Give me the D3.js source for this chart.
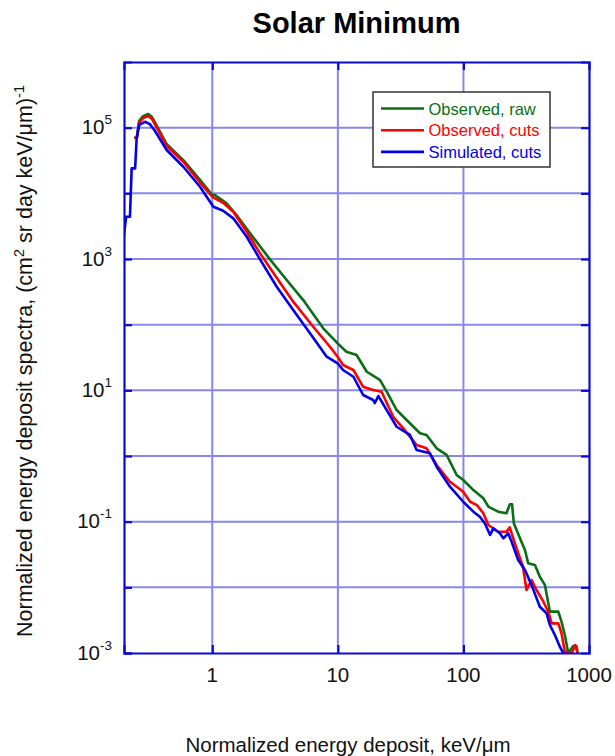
<!DOCTYPE html>
<html><head><meta charset="utf-8">
<script src="https://cdn.jsdelivr.net/npm/d3@7"></script>
<style>body{margin:0;background:#fff}svg{display:block}text{font-family:Arial,"Liberation Sans",sans-serif}</style>
</head><body><svg id="c" width="615" height="756"></svg>
<script>
const seriesNames = ["Observed, raw", "Observed, cuts", "Simulated, cuts"];
const seriesColors = ["#0a6e14", "#ff0000", "#0000ee"];
const greenX = [0.239,0.251,0.261,0.281,0.309,0.331,0.356,0.433,0.588,0.798,1.00,1.05,1.30,1.56,2.00,2.88,3.91,5.30,7.65,9.96,11.7,14.1,17.0,21.6,24.5,29.4,37.5,45.1,50.9,61.2,73.5,88.3,99.6,120,144,158,189,220,234,244,252,282,309,328,371,406,446,488,569,604,642,683,748,794,812];
const greenY = [70300,70300,126000,150000,161000,145000,113000,56300,32100,16000,9410,9410,7040,4680,2460,988,479,237,87.9,52.0,38.7,34.5,19.2,14.4,9.53,5.01,3.15,2.22,2.09,1.31,1.04,0.514,0.431,0.303,0.227,0.169,0.142,0.134,0.184,0.184,0.0944,0.0558,0.037,0.0232,0.0219,0.0145,0.0108,0.00426,0.00426,0.003,0.00188,0.001,0.00128,0.00128,0.001];
const redX = [0.239,0.251,0.261,0.281,0.309,0.331,0.356,0.433,0.588,0.798,1.00,1.05,1.22,1.47,1.88,2.40,3.35,4.41,6.37,8.65,9.96,11.0,13.3,15.9,19.1,22.3,27.6,33.2,42.4,50.9,61.2,78.1,99.6,113,128,144,158,189,220,234,244,265,298,318,349,382,433,474,504,570,604,642,731,776,812];
const redY = [70300,70300,118000,140000,150000,136000,106000,52500,30300,14600,8870,8390,7190,5250,2600,1220,479,224,93.1,46.1,32.5,24.3,20.4,11.3,10.1,9.53,3.96,2.64,1.47,1.31,0.729,0.406,0.286,0.201,0.179,0.134,0.0889,0.0703,0.0703,0.082,0.0627,0.0393,0.0206,0.0091,0.0129,0.0091,0.00604,0.00426,0.00283,0.00283,0.002,0.00105,0.001,0.00132,0.001];
const blueX = [0.198,0.206,0.221,0.228,0.243,0.250,0.262,0.291,0.319,0.350,0.433,0.588,0.798,1.02,1.22,1.47,1.88,2.40,3.26,4.41,6.00,8.15,9.96,11.0,13.3,15.9,19.1,19.7,21.0,24.5,29.4,37.5,42.4,54.1,61.2,78.1,99.6,120,135,148,163,173,195,208,227,242,273,309,349,406,459,488,535,586,623];
const blueY = [2320,4400,4400,24000,24000,70300,110000,123000,113000,89000,45700,25400,12600,6250,5430,4160,2180,988,378,167,73.8,32.5,25.8,20.4,16.1,8.49,7.13,6.41,8.19,5.01,2.79,2.09,1.23,1.10,0.687,0.341,0.201,0.142,0.119,0.0944,0.0627,0.0792,0.0665,0.0558,0.0665,0.0495,0.0261,0.0184,0.0108,0.00507,0.00403,0.00267,0.00188,0.00125,0.001];
const xTicks = [1, 10, 100, 1000];
const xGrid = [1, 10, 100];
const yTicks = [-3, -1, 1, 3, 5];
const yGrid = [-2, -1, 0, 1, 2, 3, 4, 5];

const L = 124, R = 589, T = 62, B = 653;
const svg = d3.select("#c");
const x = d3.scaleLog().domain([Math.pow(10, -0.703), 1000]).range([L, R]);
const y = d3.scaleLog().domain([1e-3, 1e6]).range([B, T]);

svg.append("text").attr("x", (L + R) / 2).attr("y", 33).attr("text-anchor", "middle")
  .attr("font-size", 29).attr("font-weight", "bold").text("Solar Minimum");

// grid
const g = svg.append("g");
g.selectAll(".gx").data(xGrid).join("line").attr("x1", d => x(d)).attr("x2", d => x(d))
  .attr("y1", T).attr("y2", B).attr("stroke", "#8787ee").attr("stroke-width", 2);
g.selectAll(".gy").data(yGrid).join("line").attr("y1", d => y(Math.pow(10, d))).attr("y2", d => y(Math.pow(10, d)))
  .attr("x1", L).attr("x2", R).attr("stroke", "#8787ee").attr("stroke-width", 2);

// curves
svg.append("defs").append("clipPath").attr("id", "clip").append("rect")
  .attr("x", L).attr("y", T).attr("width", R - L).attr("height", B - T);
const series = [d3.zip(greenX, greenY), d3.zip(redX, redY), d3.zip(blueX, blueY)];
const line = d3.line().x(d => x(d[0])).y(d => y(d[1]));
const cg = svg.append("g").attr("clip-path", "url(#clip)");
series.forEach((s, i) => {
  cg.append("path").attr("d", line(s)).attr("fill", "none").attr("stroke", seriesColors[i])
    .attr("stroke-width", 2.6).attr("stroke-linejoin", "round");
});

// axes (frame with inside ticks)
const frameColor = "#0a0ad2";
const axB = d3.axisBottom(x).tickValues(xGrid).tickSize(-8).tickFormat("");
const axT = d3.axisTop(x).tickValues(xGrid).tickSize(-8).tickFormat("");
const axL = d3.axisLeft(y).tickValues(yGrid.concat([-3]).map(d => Math.pow(10, d))).tickSize(-8).tickFormat("");
const axR = d3.axisRight(y).tickValues(yGrid.map(d => Math.pow(10, d))).tickSize(-8).tickFormat("");
[[axB, `translate(0,${B})`], [axT, `translate(0,${T})`], [axL, `translate(${L},0)`], [axR, `translate(${R},0)`]].forEach(([a, t]) => {
  const ag = svg.append("g").attr("transform", t).call(a);
  ag.selectAll("path").attr("stroke", frameColor).attr("stroke-width", 2.2);
  ag.selectAll("line").attr("stroke", frameColor).attr("stroke-width", 2.2);
});

// x tick labels
svg.selectAll(".xl").data(xTicks).join("text").attr("x", d => x(d)).attr("y", 682)
  .attr("text-anchor", "middle").attr("font-size", 20.5).attr("fill", "#111").text(d => d);

// y tick labels
yTicks.forEach(e => {
  const t = svg.append("text").attr("x", 112).attr("y", y(Math.pow(10, e)) + 6.5)
    .attr("text-anchor", "end").attr("font-size", 20.5).attr("fill", "#111");
  t.append("tspan").text("10");
  t.append("tspan").attr("dy", -10).attr("font-size", 13.5).text(String(e));
});

// axis titles
svg.append("text").attr("x", 348).attr("y", 752).attr("text-anchor", "middle")
  .attr("font-size", 20.5).attr("fill", "#111").text("Normalized energy deposit, keV/μm");
const yt = svg.append("text").attr("transform", "translate(32,361) rotate(-90)")
  .attr("text-anchor", "middle").attr("font-size", 21.5).attr("fill", "#111");
yt.append("tspan").text("Normalized energy deposit spectra, (cm");
yt.append("tspan").attr("dy", -8).attr("font-size", 14.5).text("2");
yt.append("tspan").attr("dy", 8).text(" sr day keV/μm)");
yt.append("tspan").attr("dy", -8).attr("font-size", 14.5).text("-1");

// legend
const lg = svg.append("g");
lg.append("rect").attr("x", 373).attr("y", 92).attr("width", 177).attr("height", 75)
  .attr("fill", "#fff").attr("stroke", "#333").attr("stroke-width", 1.5);
seriesNames.forEach((n, i) => {
  const cy = 108.5 + i * 21.7;
  lg.append("line").attr("x1", 381).attr("x2", 424).attr("y1", cy).attr("y2", cy)
    .attr("stroke", seriesColors[i]).attr("stroke-width", 2.6);
  lg.append("text").attr("x", 428.5).attr("y", cy + 6).attr("font-size", 16.5)
    .attr("fill", seriesColors[i]).text(n);
});
</script></body></html>
